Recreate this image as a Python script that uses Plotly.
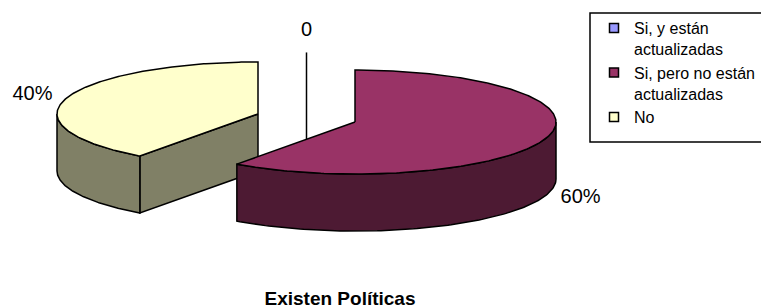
import numpy as np
import plotly.graph_objects as go

# ---- data ----
categories = ["Si, y están actualizadas", "Si, pero no están actualizadas", "No"]
legend_labels = ["Si, y están<br>actualizadas", "Si, pero no están<br>actualizadas", "No"]
values = [0, 60, 40]
value_labels = ["0", "60%", "40%"]
title_text = "Existen Políticas"

# ---- style ----
top_colors = ["#9999FF", "#993366", "#FFFFCC"]
side_colors = ["#4D4D80", "#4D1A33", "#808066"]
WIN_W, WIN_H = 769, 308
PAD = 8                     # default page body margin
W, H = WIN_W - PAD, WIN_H - PAD
CX, CY = 306.5, 118.0      # centre of pie top face (window px)
RX, RY = 201.0, 52.0       # ellipse radii
DEPTH = 57.0               # thickness
EXPLODE = 51.0             # explosion distance
LABEL_K = 1.18
ZERO_LIFT = 12.0
FONT = "Liberation Sans, Arial, sans-serif"
OUTLINE = dict(color="black", width=1.5)


def px(x):
    return (x - PAD) / W


def py(y):
    return 1 - (y - PAD) / H


fig = go.Figure()

total = float(sum(values))
starts = np.cumsum([0] + values[:-1]) / total * 360.0
ends = np.cumsum(values) / total * 360.0


def centre(mid_deg):
    m = np.radians(mid_deg)
    return CX + EXPLODE * np.sin(m), CY - EXPLODE * np.cos(m) * RY / RX


def edge(c, deg, k=1.0):
    t = np.radians(deg)
    return c[0] + RX * k * np.sin(t), c[1] - RY * k * np.cos(t)


def poly(xs, ys, color):
    fig.add_trace(go.Scatter(x=list(xs) + [xs[0]], y=list(ys) + [ys[0]], mode="lines",
                             fill="toself", fillcolor=color, line=OUTLINE,
                             hoverinfo="skip", showlegend=False))


slices = []
for i, v in enumerate(values):
    mid = (starts[i] + ends[i]) / 2.0
    c = centre(mid)
    slices.append((i, v, starts[i], ends[i], mid, c))

# leader lines + labels for zero-value slices (drawn first, pie slices cover them)
label_x, label_y = [], []
for i, v, a0, a1, mid, c in slices:
    lx, ly = edge(c, mid, LABEL_K)
    if v == 0:
        ly -= ZERO_LIFT
        fig.add_trace(go.Scatter(x=[lx, lx], y=[ly + 21, CY + DEPTH], mode="lines",
                                 line=dict(color="black", width=1.5),
                                 hoverinfo="skip", showlegend=False))
    elif np.cos(np.radians(mid)) < 0:
        ly += DEPTH
    label_x.append(lx)
    label_y.append(ly)

# slices drawn back to front
for i, v, a0, a1, mid, c in sorted(slices, key=lambda s: s[5][1]):
    if v == 0:
        continue
    if np.cos(np.radians(a0 - 270)) > 1e-6:
        ex, ey = edge(c, a0)
        poly([c[0], ex, ex, c[0]], [c[1], ey, ey + DEPTH, c[1] + DEPTH], side_colors[i])
    if np.cos(np.radians(a1 - 90)) > 1e-6:
        ex, ey = edge(c, a1)
        poly([c[0], ex, ex, c[0]], [c[1], ey, ey + DEPTH, c[1] + DEPTH], side_colors[i])
    s0, s1 = max(a0, 90.0), min(a1, 270.0)
    if s1 > s0:
        th = np.linspace(s0, s1, 120)
        ax, ay = edge(c, th)
        xs = np.concatenate([ax, ax[::-1]])
        ys = np.concatenate([ay, (ay + DEPTH)[::-1]])
        poly(xs, ys, side_colors[i])
    th = np.linspace(a0, a1, 240)
    ax, ay = edge(c, th)
    poly(np.concatenate([[c[0]], ax]), np.concatenate([[c[1]], ay]), top_colors[i])

# data labels
fig.add_trace(go.Scatter(x=label_x, y=label_y, mode="text", text=value_labels,
                         textfont=dict(family=FONT, size=20, color="black"),
                         hoverinfo="skip", showlegend=False))

# legend entries
for i, name in enumerate(legend_labels):
    fig.add_trace(go.Scatter(x=[None], y=[None], mode="markers", name=name,
                             marker=dict(symbol="square", size=9, color=top_colors[i],
                                         line=dict(color="black", width=1.5))))

fig.update_layout(
    width=W, height=H,
    margin=dict(l=0, r=0, t=0, b=0),
    paper_bgcolor="white", plot_bgcolor="white",
    xaxis=dict(range=[PAD, WIN_W], visible=False, fixedrange=True),
    yaxis=dict(range=[WIN_H, PAD], visible=False, fixedrange=True),
    showlegend=True,
    legend=dict(x=px(594), y=py(11), xanchor="left", yanchor="top",
                font=dict(family=FONT, size=16, color="black"),
                valign="top", bgcolor="rgba(0,0,0,0)", borderwidth=0,
                tracegroupgap=0, itemwidth=30),
    title=dict(text="<b>" + title_text + "</b>", x=px(340), xanchor="center",
               y=py(298), yanchor="middle", yref="container",
               font=dict(family=FONT, size=19, color="black")),
    shapes=[dict(type="rect", xref="paper", yref="paper",
                 x0=px(590), x1=1.02, y0=py(142), y1=py(13),
                 line=dict(color="black", width=1.5), fillcolor="rgba(0,0,0,0)")],
)

fig.write_html("out.html")
